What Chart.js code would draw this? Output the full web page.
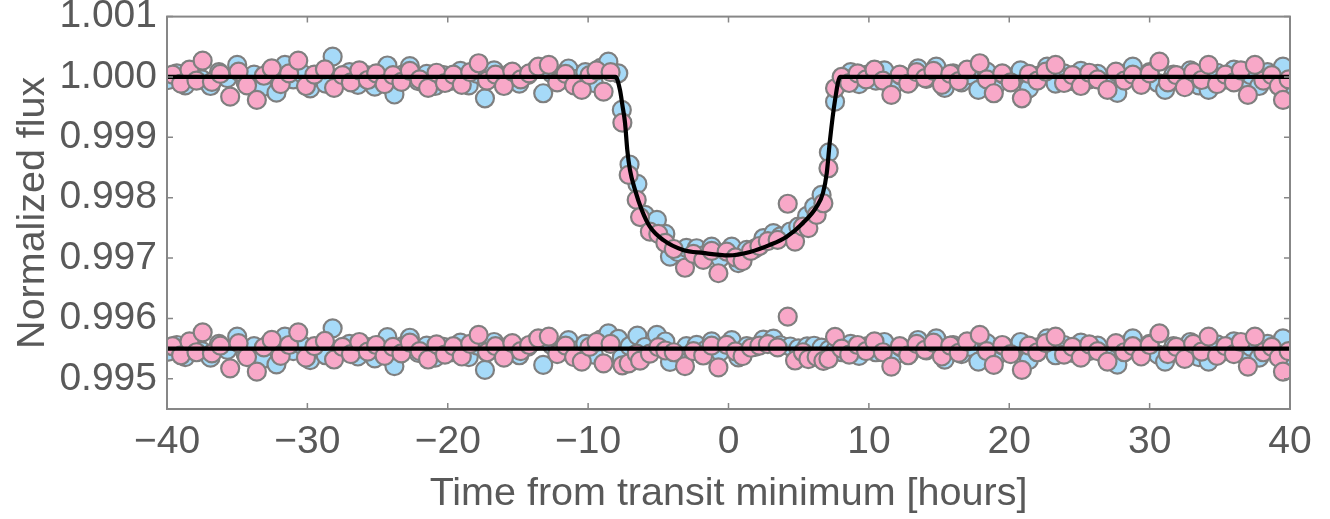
<!DOCTYPE html>
<html>
<head>
<meta charset="utf-8">
<script src="https://cdn.jsdelivr.net/npm/chart.js@4/dist/chart.umd.min.js"></script>
<style>
  html, body { margin: 0; padding: 0; background: #ffffff; }
  canvas { display: block; }
</style>
</head>
<body>
<canvas id="chart" width="1330" height="519"></canvas>
<script>
// Axis ticks
const xTickValues = [-40, -30, -20, -10, 0, 10, 20, 30, 40];
const yTickValues = [0.995, 0.996, 0.997, 0.998, 0.999, 1.000, 1.001];

// Visit 1 (blue): time [h], flux deviation [ppm], residual [ppm]
const blueTime = [-39.9,-39.3,-38.7,-38.1,-37.5,-36.9,-36.3,-35.7,-35.0,-34.4,-33.8,-33.2,-32.7,-32.2,-31.6,-31.0,-30.4,-29.8,-29.2,-28.7,-28.2,-27.6,-27.0,-26.4,-25.8,-25.2,-24.7,-24.3,-23.8,-23.2,-22.7,-22.1,-21.5,-20.9,-20.3,-19.7,-19.1,-18.5,-17.9,-17.35,-16.7,-16.1,-15.5,-14.9,-14.3,-13.7,-13.2,-12.6,-12.0,-11.4,-10.8,-10.2,-9.6,-9.1,-8.56,-7.85,
  -7.6,-7.05,-6.49,-5.95,-5.1,-4.5,-4.17,-3.6,-3.0,-2.27,-1.7,-1.2,-0.6,0.23,0.7,1.3,1.9,2.48,3.2,3.7,4.4,4.97,5.6,6.1,6.63,7.15,7.59,8.1,
  8.7,9.3,9.9,10.5,11.1,11.7,12.3,12.9,13.5,14.1,14.8,15.4,16.0,16.6,17.2,17.8,18.4,19.0,19.6,20.2,20.8,21.4,22.0,22.7,23.3,23.9,24.5,25.1,25.7,26.3,26.9,27.7,28.3,28.8,29.4,30.0,30.6,31.1,31.7,32.3,32.9,33.5,34.2,34.8,35.4,36.0,36.6,37.2,37.8,38.4,39.0,39.5,39.9];
const blueFluxPpm = [-50,60,-140,100,-40,-150,80,-20,200,-90,40,-170,90,-260,200,-40,60,-190,20,-110,336,-40,80,-130,30,-160,70,190,-290,40,180,-70,50,-150,30,-60,100,-140,50,-353,110,-40,70,-110,30,130,-270,60,-50,140,-30,80,-100,150,253,61,
  -546,-1450,-1772,-2285,-2368,-2600,-2976,-2900,-2830,-2837,-2950,-2810,-3000,-2810,-3085,-2865,-2840,-2671,-2588,-2640,-2560,-2479,-2300,-2150,-1954,-1250,-409,-60,
  80,-120,40,-60,110,-150,20,-80,143,-30,171,-182,60,-90,30,-215,90,-150,40,-60,110,-190,20,171,-110,60,-70,100,-40,50,-120,-265,60,171,-30,80,-100,-215,40,-60,110,-140,-215,70,-40,120,-80,30,-150,80,-60,171,-120];
const blueResidPpm = [-50,60,-140,100,-40,-150,80,-20,200,-90,40,-170,90,-260,200,-40,60,-190,20,-110,336,-40,80,-130,30,-160,70,190,-290,40,180,-70,50,-150,30,-60,100,-140,50,-353,110,-40,70,-110,30,130,-270,60,-50,140,-30,80,-100,150,253,160,
  -146,40,216,27,229,118,-220,-70,43,63,-32,119,-55,140,-145,40,30,149,167,56,35,5,37,48,18,-17,-28,-60,
  80,-120,40,-60,110,-150,20,-80,143,-30,171,-182,60,-90,30,-215,90,-150,40,-60,110,-190,20,171,-110,60,-70,100,-40,50,-120,-265,60,171,-30,80,-100,-215,40,-60,110,-140,-215,70,-40,120,-80,30,-150,80,-60,171,-120];

// Visit 2 (pink): time [h], flux deviation [ppm], residual [ppm]
const pinkTime = [-39.6,-39.0,-38.4,-37.9,-37.46,-36.8,-36.2,-35.5,-34.9,-34.3,-33.6,-33.1,-32.54,-31.9,-31.3,-30.65,-30.1,-29.5,-28.75,-28.1,-27.5,-26.9,-26.3,-25.7,-25.1,-24.5,-23.9,-23.3,-22.7,-22.0,-21.4,-20.8,-20.2,-19.6,-19.0,-18.4,-17.8,-17.2,-16.6,-16.0,-15.4,-14.8,-14.2,-13.55,-12.8,-12.2,-11.6,-11.0,-10.45,-9.9,-9.4,-8.9,-8.4,
  -7.56,-7.11,-6.54,-6.3,-5.6,-5.0,-4.5,-3.9,-3.1,-2.5,-1.8,-1.2,-0.72,-0.13,0.5,1.0,1.6,2.2,2.8,3.5,4.22,4.74,5.3,5.69,6.28,6.76,7.12,7.59,8.06,
  8.6,9.2,9.8,10.4,11.0,11.6,12.2,12.8,13.4,14.0,14.6,15.2,15.8,16.4,17.0,17.9,18.4,18.9,19.5,20.1,20.9,21.4,22.0,22.6,23.3,23.9,24.5,25.1,25.7,26.3,27.0,27.6,28.2,28.8,29.4,30.0,30.7,31.3,31.9,32.5,33.1,33.7,34.2,34.8,35.4,36.0,36.5,37.0,37.5,38.1,38.7,39.2,39.5,39.9];
const pinkFluxPpm = [40,-110,120,-60,270,-80,50,-326,90,-140,-381,20,144,-120,60,270,-150,40,127,-180,30,-90,110,-50,60,-120,30,-80,100,-40,-180,70,-100,40,-130,80,227,-60,40,-150,90,-40,60,171,199,-90,50,-140,-215,30,110,-243,80,
  -757,-1623,-2037,-2320,-2562,-2600,-2749,-2850,-3160,-2930,-3030,-2880,-3251,-2893,-2990,-3050,-2880,-2800,-2720,-2700,-2100,-2727,-2480,-2505,-2285,-2092,-1512,-187,0,
  -100,60,-40,120,-60,-298,40,-110,80,-20,100,-130,50,-70,120,227,-40,-270,60,-90,-353,50,-60,90,199,-100,30,-150,70,-40,-215,90,-60,40,-130,60,253,-90,30,-170,80,-50,199,-120,40,-90,110,-298,199,-60,30,-150,-381,-40];
const pinkResidPpm = [40,-110,120,-60,270,-80,50,-326,90,-140,-381,20,144,-120,60,270,-150,40,127,-180,30,-90,110,-50,60,-120,30,-80,100,-40,-180,70,-100,40,-130,80,227,-60,40,-150,90,-40,60,171,199,-90,50,-140,-215,30,110,-243,80,
  -277,-243,-83,-200,-82,25,-31,-60,-290,-40,-114,50,-311,62,-45,-125,15,50,75,20,530,-197,-60,-175,-137,-202,-172,194,0,
  -100,60,-40,120,-60,-298,40,-110,80,-20,100,-130,50,-70,120,227,-40,-270,60,-90,-353,50,-60,90,199,-100,30,-150,70,-40,-215,90,-60,40,-130,60,253,-90,30,-170,80,-50,199,-120,40,-90,110,-298,199,-60,30,-150,-381,-40];

// Transit model: time [h], flux deviation [ppm]
const modelTime = [-40,-8.05,-7.73,-7.55,-7.37,-7.21,-7.02,-6.66,-6.18,-5.59,-4.66,-3.24,-1.82,0,1.53,2.95,4.14,5.31,6.28,6.73,7.0,7.23,7.59,7.95,40];
const modelFluxPpm = [0,0,-215,-480,-762,-1209,-1540,-1871,-2202,-2484,-2699,-2865,-2915,-2955,-2898,-2782,-2645,-2418,-2148,-1921,-1590,-1043,-381,0,0];

// Residuals are plotted around this flux level
const residualLevel = 0.9955;
const residualLineTime = [-40, 40];

const ppm = 1e-6;
const toPoints = (times, values, base) => times.map((t, i) => ({ x: t, y: base + values[i] * ppm }));

const textColor = '#595959';
const frameColor = '#878787';
const fontFamily = '"Liberation Sans", Arial, Helvetica, sans-serif';

const markerStyle = (fill) => ({
  showLine: false,
  pointRadius: 9,
  pointHoverRadius: 9,
  pointBorderWidth: 2.2,
  pointHoverBorderWidth: 2.2,
  pointBorderColor: '#7f7f7f',
  pointBackgroundColor: fill,
  pointHoverBackgroundColor: fill,
  clip: 0
});

const framePlugin = {
  id: 'frame',
  afterDraw(chart) {
    const { ctx, chartArea: a, scales: { x, y } } = chart;
    ctx.save();
    ctx.strokeStyle = frameColor;
    ctx.lineWidth = 2;
    ctx.strokeRect(a.left, a.top, a.right - a.left, a.bottom - a.top);
    ctx.lineWidth = 1.5;
    ctx.beginPath();
    yTickValues.forEach(v => {
      const py = y.getPixelForValue(v);
      ctx.moveTo(a.left, py); ctx.lineTo(a.left + 6, py);
      ctx.moveTo(a.right, py); ctx.lineTo(a.right - 6, py);
    });
    xTickValues.forEach(v => {
      const px = x.getPixelForValue(v);
      ctx.moveTo(px, a.bottom); ctx.lineTo(px, a.bottom - 6);
      ctx.moveTo(px, a.top); ctx.lineTo(px, a.top + 6);
    });
    ctx.stroke();
    ctx.restore();
  }
};

new Chart(document.getElementById('chart'), {
  type: 'scatter',
  data: {
    datasets: [
      {
        label: 'Transit model',
        data: toPoints(modelTime, modelFluxPpm, 1),
        showLine: true,
        borderColor: '#000000',
        borderWidth: 4.2,
        pointRadius: 0,
        pointHoverRadius: 0,
        cubicInterpolationMode: 'monotone'
      },
      {
        label: 'Zero residual',
        data: residualLineTime.map(t => ({ x: t, y: residualLevel })),
        showLine: true,
        borderColor: '#000000',
        borderWidth: 4.2,
        pointRadius: 0,
        pointHoverRadius: 0
      },
      Object.assign({ label: 'Visit 2', data: toPoints(pinkTime, pinkFluxPpm, 1) }, markerStyle('#F8A8C8')),
      Object.assign({ label: 'Visit 2 residuals', data: toPoints(pinkTime, pinkResidPpm, residualLevel) }, markerStyle('#F8A8C8')),
      Object.assign({ label: 'Visit 1', data: toPoints(blueTime, blueFluxPpm, 1) }, markerStyle('#A6DAF8')),
      Object.assign({ label: 'Visit 1 residuals', data: toPoints(blueTime, blueResidPpm, residualLevel) }, markerStyle('#A6DAF8'))
    ]
  },
  options: {
    responsive: false,
    animation: false,
    devicePixelRatio: 1,
    events: [],
    layout: { padding: { top: 16.6, right: 40, bottom: 0, left: 0 } },
    plugins: { legend: { display: false }, tooltip: { enabled: false } },
    scales: {
      x: {
        type: 'linear',
        min: -40,
        max: 40,
        afterBuildTicks: s => { s.ticks = xTickValues.map(v => ({ value: v })); },
        afterFit: s => { s.height = 110; s.paddingLeft = 0; s.paddingRight = 0; },
        grid: { display: false, drawTicks: false },
        border: { display: false },
        ticks: {
          autoSkip: false,
          maxRotation: 0,
          padding: 10,
          color: textColor,
          font: { family: fontFamily, size: 39 },
          callback: v => (v < 0 ? '\u2212' + Math.abs(v) : String(v))
        },
        title: {
          display: true,
          text: 'Time from transit minimum [hours]',
          color: textColor,
          font: { family: fontFamily, size: 39.5, lineHeight: 1.2 },
          padding: { top: 0, bottom: 1 }
        }
      },
      y: {
        type: 'linear',
        min: 0.9945,
        max: 1.001,
        afterBuildTicks: s => { s.ticks = yTickValues.map(v => ({ value: v })); },
        afterFit: s => { s.width = 167; s.paddingTop = 0; s.paddingBottom = 0; },
        grid: { display: false, drawTicks: false },
        border: { display: false },
        ticks: {
          padding: 10,
          color: textColor,
          font: { family: fontFamily, size: 39 },
          callback: v => v.toFixed(3)
        },
        title: {
          display: true,
          text: 'Normalized flux',
          color: textColor,
          font: { family: fontFamily, size: 39.5, lineHeight: 1.2 },
          padding: { top: 9, bottom: 0 }
        }
      }
    }
  },
  plugins: [framePlugin]
});
</script>
</body>
</html>
